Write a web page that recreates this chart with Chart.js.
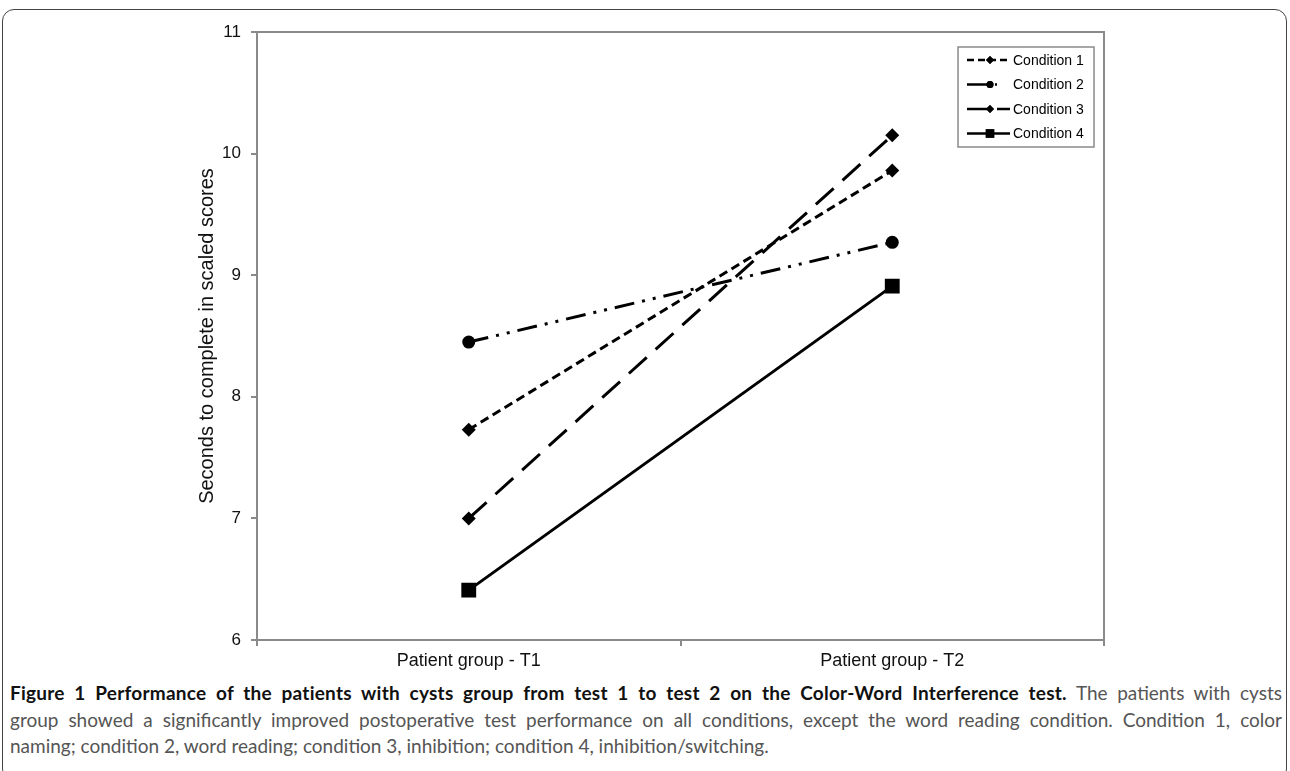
<!DOCTYPE html>
<html>
<head>
<meta charset="utf-8">
<script src="https://cdn.jsdelivr.net/npm/chart.js@4.4.1/dist/chart.umd.min.js"></script>
<style>
  body { margin: 0; background: #fff; width: 1290px; height: 771px; overflow: hidden; position: relative; }
  #frame { position: absolute; left: 2px; top: 9px; width: 1283px; height: 770px; border: 1.5px solid #444; border-radius: 12px; }
  #wrap { position: absolute; left: 0; top: 0; width: 1290px; height: 680px; }
  #caption { position: absolute; left: 10px; top: 680px; width: 1272px; font-family: Lato, "Open Sans", sans-serif; font-size: 19px; line-height: 26.5px; color: #555; white-space: nowrap; }
  #caption div.full { text-align: justify; text-align-last: justify; }
  #caption b { color: #111; letter-spacing: 0.25px; }
</style>
</head>
<body>
<div id="frame"></div>
<div id="wrap"><canvas id="chart" width="1290" height="680"></canvas></div>
<div id="caption">
  <div class="full"><b>Figure 1 Performance of the patients with cysts group from test 1 to test 2 on the Color-Word Interference test.</b> The patients with cysts</div>
  <div class="full">group showed a significantly improved postoperative test performance on all conditions, except the word reading condition. Condition 1, color</div>
  <div>naming; condition 2, word reading; condition 3, inhibition; condition 4, inhibition/switching.</div>
</div>
<script>
const labels = ['Patient group - T1', 'Patient group - T2'];
const condition1 = [7.73, 9.86];
const condition2 = [8.45, 9.27];
const condition3 = [7.00, 10.15];
const condition4 = [6.41, 8.91];
const yTicks = [6, 7, 8, 9, 10, 11];

// box round the plot area
const plotBox = {
  id: 'plotBox',
  beforeDatasetsDraw(chart) {
    const a = chart.chartArea, ctx = chart.ctx;
    ctx.save();
    ctx.strokeStyle = '#8a8a8a';
    ctx.lineWidth = 2;
    ctx.strokeRect(a.left, a.top, a.right - a.left, a.bottom - a.top);
    ctx.restore();
  }
};

// excel-like legend: line sample with marker in the middle
const lineLegend = {
  id: 'lineLegend',
  afterDraw(chart) {
    const ctx = chart.ctx;
    const box = { left: 958, top: 47, right: 1094, bottom: 147 };
    ctx.save();
    ctx.strokeStyle = '#8a8a8a';
    ctx.lineWidth = 1.5;
    ctx.strokeRect(box.left, box.top, box.right - box.left, box.bottom - box.top);
    chart.data.datasets.forEach((ds, i) => {
      const y = 60 + i * 24.5;
      ctx.strokeStyle = '#000';
      ctx.lineWidth = 2.5;
      ctx.setLineDash(ds.legendDash || []);
      ctx.beginPath();
      ctx.moveTo(967, y);
      ctx.lineTo(1010, y);
      ctx.stroke();
      ctx.setLineDash([]);
      ctx.fillStyle = '#000';
      Chart.helpers.drawPoint(ctx, { pointStyle: ds.pointStyle, radius: ds.legendRadius, borderWidth: 0 }, 990, y);
      ctx.fill();
      ctx.font = '14px "Liberation Sans", Arial, sans-serif';
      ctx.textBaseline = 'middle';
      ctx.fillText(ds.label, 1013, y + 1);
    });
    ctx.restore();
  }
};

const common = { borderColor: '#000', backgroundColor: '#000', borderWidth: 3, pointBorderWidth: 0, fill: false, tension: 0 };
const axisFont = '"Liberation Sans", Arial, sans-serif';

new Chart(document.getElementById('chart'), {
  type: 'line',
  data: {
    labels: labels,
    datasets: [
      { ...common, label: 'Condition 1', data: condition1, borderDash: [9, 5], legendDash: [7, 4], pointStyle: 'rectRot', pointRadius: 7, legendRadius: 4 },
      { ...common, label: 'Condition 2', data: condition2, borderDash: [20, 8, 3, 8, 3, 8], legendDash: [22, 6, 2, 20], pointStyle: 'circle', pointRadius: 6.5, legendRadius: 3.5 },
      { ...common, label: 'Condition 3', data: condition3, borderDash: [24, 12], legendDash: [24, 6], pointStyle: 'rectRot', pointRadius: 7, legendRadius: 4 },
      { ...common, label: 'Condition 4', data: condition4, borderDash: [], legendDash: [], pointStyle: 'rect', pointRadius: 10.5, legendRadius: 6 }
    ]
  },
  options: {
    responsive: false,
    animation: false,
    layout: { padding: { top: 32, right: 186, bottom: 0, left: 0 } },
    plugins: { legend: { display: false }, tooltip: { enabled: false } },
    scales: {
      x: {
        type: 'category',
        offset: true,
        afterFit(scale) { scale.height = 40; },
        grid: { offset: true, drawOnChartArea: false, color: '#8a8a8a', lineWidth: 2, tickLength: 6 },
        border: { color: '#8a8a8a', width: 2 },
        ticks: { color: '#111', padding: 4, font: { family: axisFont, size: 18 } }
      },
      y: {
        min: 6,
        max: 11,
        afterBuildTicks(scale) { scale.ticks = yTicks.map(v => ({ value: v })); },
        afterFit(scale) { scale.width = 257; },
        grid: { drawOnChartArea: false, color: '#8a8a8a', lineWidth: 2, tickLength: 6 },
        border: { color: '#8a8a8a', width: 2 },
        ticks: { color: '#111', padding: 10, font: { family: axisFont, size: 17 } },
        title: {
          display: true,
          text: 'Seconds to complete in scaled scores',
          color: '#111',
          font: { family: axisFont, size: 20 },
          padding: { top: 195, bottom: 0 }
        }
      }
    }
  },
  plugins: [plotBox, lineLegend]
});
</script>
</body>
</html>
